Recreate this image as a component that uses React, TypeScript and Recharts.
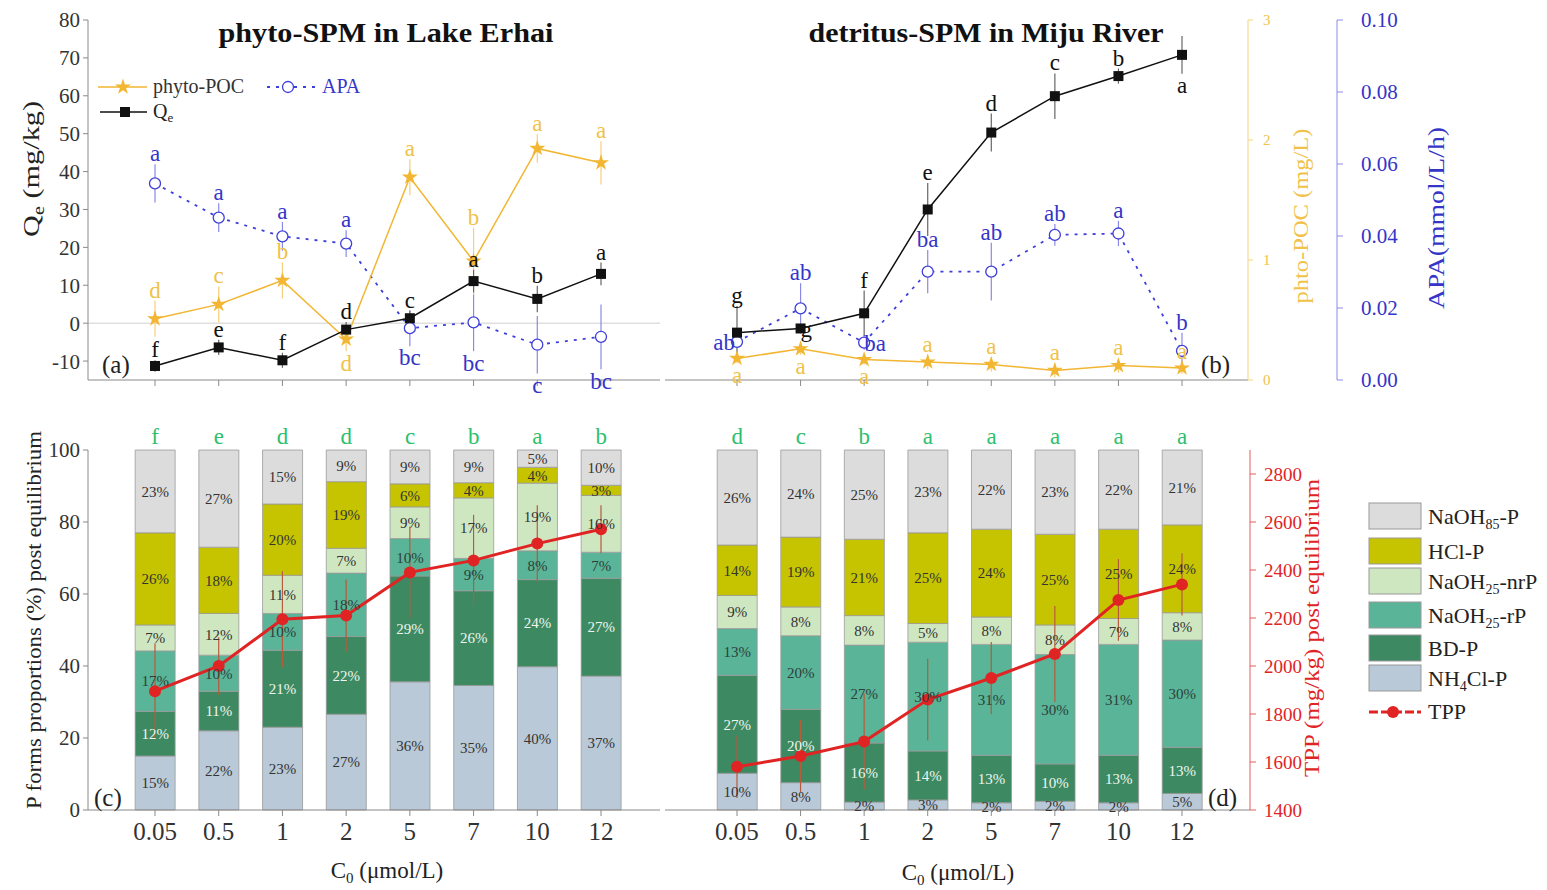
import React from 'react';
import { ComposedChart, Line, Bar, XAxis, YAxis, ErrorBar, LabelList, ReferenceLine, Symbols } from 'recharts';

const FONT = "'Liberation Serif', 'Times New Roman', serif";

const CATS = ['0.05', '0.5', '1', '2', '5', '7', '10', '12'];
const IDX = [0, 1, 2, 3, 4, 5, 6, 7];

// ---- (a) phyto-SPM in Lake Erhai ----
const ERHAI_QE = [-11.3, -6.4, -9.8, -1.7, 1.3, 11.1, 6.4, 13.0];
const ERHAI_QE_ERR = [1.5, 2, 2, 2, 2, 3, 3.5, 3];
const ERHAI_QE_SIG = ['f', 'e', 'f', 'd', 'c', 'a', 'b', 'a'];
const ERHAI_QE_SIDE = ['u', 'u', 'u', 'u', 'u', 'u', 'u', 'u'];
const ERHAI_POC = [0.51, 0.63, 0.83, 0.34, 1.69, 0.99, 1.93, 1.81];
const ERHAI_POC_ERR = [0.15, 0.15, 0.15, 0.1, 0.15, 0.28, 0.12, 0.18];
const ERHAI_POC_SIG = ['d', 'c', 'b', 'd', 'a', 'b', 'a', 'a'];
const ERHAI_POC_SIDE = ['u', 'u', 'u', 'd', 'u', 'u', 'u', 'u'];
const ERHAI_APA = [0.0546, 0.0451, 0.0399, 0.0379, 0.0144, 0.016, 0.0098, 0.012];
const ERHAI_APA_ERR = [0.0053, 0.004, 0.004, 0.0037, 0.005, 0.008, 0.008, 0.009];
const ERHAI_APA_SIG = ['a', 'a', 'a', 'a', 'bc', 'bc', 'c', 'bc'];
const ERHAI_APA_SIDE = ['u', 'u', 'u', 'u', 'd', 'd', 'd', 'd'];

// ---- (b) detritus-SPM in Miju River ----
const MIJU_QE = [-2.5, -1.4, 2.6, 30.0, 50.3, 59.9, 65.2, 70.8];
const MIJU_QE_ERR = [7, 1, 6, 7, 5, 6, 2, 5];
const MIJU_QE_SIG = ['g', 'g', 'f', 'e', 'd', 'c', 'b', 'a'];
const MIJU_QE_SIDE = ['u', 'r', 'u', 'u', 'u', 'u', 'u', 'd'];
const MIJU_POC = [0.18, 0.26, 0.17, 0.15, 0.13, 0.08, 0.12, 0.1];
const MIJU_POC_ERR = [0.04, 0.05, 0.04, 0.06, 0.06, 0.06, 0.06, 0.05];
const MIJU_POC_SIG = ['a', 'a', 'a', 'a', 'a', 'a', 'a', 'a'];
const MIJU_POC_SIDE = ['d', 'd', 'd', 'u', 'u', 'u', 'u', 'u'];
const MIJU_APA = [0.0106, 0.0199, 0.0104, 0.0301, 0.0301, 0.0403, 0.0407, 0.0081];
const MIJU_APA_ERR = [0.001, 0.007, 0.002, 0.006, 0.008, 0.003, 0.0035, 0.005];
const MIJU_APA_SIG = ['ab', 'ab', 'ba', 'ba', 'ab', 'ab', 'a', 'b'];
const MIJU_APA_SIDE = ['l', 'u', 'r', 'u', 'u', 'u', 'u', 'u'];

// ---- (c) P forms, Lake Erhai (%) ----
const ERHAI_NH4 = [15, 22, 23, 26.6, 35.6, 34.6, 39.8, 37.2];
const ERHAI_BD = [12.4, 11, 21.4, 21.6, 29.4, 26.3, 24.2, 27.2];
const ERHAI_RP = [16.8, 10, 10.2, 17.6, 10.4, 9.0, 8.0, 7.2];
const ERHAI_NRP = [7.2, 11.6, 10.6, 6.9, 8.8, 16.8, 18.8, 15.8];
const ERHAI_HCL = [25.6, 18.4, 19.8, 18.5, 6.4, 4.2, 4.4, 2.8];
const ERHAI_N85 = [23, 27, 15, 8.8, 9.4, 9.1, 4.8, 9.8];
const ERHAI_SIG = ['f', 'e', 'd', 'd', 'c', 'b', 'a', 'b'];
const ERHAI_TPP = [1895, 2000, 2195, 2210, 2390, 2440, 2510, 2570];
const ERHAI_TPP_ERR = [200, 120, 200, 150, 190, 190, 160, 100];

// ---- (d) P forms, Miju River (%) ----
const MIJU_NH4 = [10.2, 7.6, 2.2, 2.8, 2.0, 2.4, 2.0, 4.6];
const MIJU_BD = [27.2, 20.4, 16.4, 13.6, 13.2, 10.4, 13.2, 12.8];
const MIJU_RP = [13, 20.4, 27.2, 30.2, 30.8, 30.4, 30.8, 29.8];
const MIJU_NRP = [9.2, 8.0, 8.2, 5.2, 7.6, 8.2, 7.2, 7.6];
const MIJU_HCL = [14, 19.4, 21.2, 25.2, 24.4, 25.2, 24.8, 24.4];
const MIJU_N85 = [26.4, 24.2, 24.8, 23, 22, 23.4, 22, 20.8];
const MIJU_SIG = ['d', 'c', 'b', 'a', 'a', 'a', 'a', 'a'];
const MIJU_TPP = [1580, 1625, 1685, 1860, 1950, 2050, 2275, 2340];
const MIJU_TPP_ERR = [130, 150, 200, 170, 150, 200, 170, 130];

const QE_TICKS = [-10, 0, 10, 20, 30, 40, 50, 60, 70, 80];
const POC_TICKS = [0, 1, 2, 3];
const APA_TICKS = [0, 0.02, 0.04, 0.06, 0.08, 0.1];
const PCT_TICKS = [0, 20, 40, 60, 80, 100];
const TPP_TICKS = [1400, 1600, 1800, 2000, 2200, 2400, 2600, 2800];

// axis ids (ordered so the phyto-POC axis sits next to the plot)
const AX_QE = 'y0qe';
const AX_POC = 'y1poc';
const AX_APA = 'y2apa';

const BLACK = '#111111';
const ORANGE = '#f2b632';
const ORANGE_T = '#f0c24a';
const BLUE = '#3f3fdc';
const BLUE_T = '#3535c8';
const RED = '#e02424';
const GREEN_T = '#2fbf6c';
const AX = '#8a8a8a';

const C_N85 = '#dcdcdc';
const C_HCL = '#c6c400';
const C_NRP = '#cfe7c1';
const C_RP = '#5ab497';
const C_BD = '#3d8a62';
const C_NH4 = '#b9c9d7';

const topRows = (qe, qeE, qeL, qeS, poc, pocE, pocL, pocS, apa, apaE, apaL, apaS) =>
  IDX.map((i) => ({
    i, cat: CATS[i],
    qe: qe[i], qeE: qeE[i], qeL: qeL[i], qeS: qeS[i],
    poc: poc[i], pocE: pocE[i], pocL: pocL[i], pocS: pocS[i],
    apa: apa[i], apaE: apaE[i], apaL: apaL[i], apaS: apaS[i],
  }));

const barRows = (nh4, bd, rp, nrp, hcl, n85, sig, tpp, tppE) =>
  IDX.map((i) => ({
    i, cat: CATS[i], nh4: nh4[i], bd: bd[i], rp: rp[i], nrp: nrp[i], hcl: hcl[i], n85: n85[i],
    sig: sig[i], tpp: tpp[i], tppE: tppE[i],
  }));

const erhaiTop = topRows(ERHAI_QE, ERHAI_QE_ERR, ERHAI_QE_SIG, ERHAI_QE_SIDE, ERHAI_POC, ERHAI_POC_ERR, ERHAI_POC_SIG, ERHAI_POC_SIDE, ERHAI_APA, ERHAI_APA_ERR, ERHAI_APA_SIG, ERHAI_APA_SIDE);
const mijuTop = topRows(MIJU_QE, MIJU_QE_ERR, MIJU_QE_SIG, MIJU_QE_SIDE, MIJU_POC, MIJU_POC_ERR, MIJU_POC_SIG, MIJU_POC_SIDE, MIJU_APA, MIJU_APA_ERR, MIJU_APA_SIG, MIJU_APA_SIDE);
const erhaiBars = barRows(ERHAI_NH4, ERHAI_BD, ERHAI_RP, ERHAI_NRP, ERHAI_HCL, ERHAI_N85, ERHAI_SIG, ERHAI_TPP, ERHAI_TPP_ERR);
const mijuBars = barRows(MIJU_NH4, MIJU_BD, MIJU_RP, MIJU_NRP, MIJU_HCL, MIJU_N85, MIJU_SIG, MIJU_TPP, MIJU_TPP_ERR);

const squareDot = (p: any) => <rect key={`sq-${p.index}`} x={p.cx - 5} y={p.cy - 5} width={10} height={10} fill={BLACK} />;
const starDot = (p: any) => <Symbols key={`st-${p.index}`} cx={p.cx} cy={p.cy} type="star" size={80} fill={ORANGE} />;
const circleDot = (p: any) => <circle key={`ci-${p.index}`} cx={p.cx} cy={p.cy} r={5.5} fill="#fff" stroke={BLUE} strokeWidth={1.3} />;
const redDot = (p: any) => <circle key={`rd-${p.index}`} cx={p.cx} cy={p.cy} r={6} fill={RED} />;

const sigLines = (k: string, axis: string, color: string) => [
  <Line key={`${k}-up`} yAxisId={axis} dataKey={(d: any) => d[k] + d[k + 'E']} stroke="none" dot={false} activeDot={false} isAnimationActive={false} legendType="none">
    <LabelList dataKey={(d: any) => (d[k + 'S'] === 'u' ? d[k + 'L'] : '')} position="top" offset={3} fill={color} fontSize={23} fontFamily={FONT} />
  </Line>,
  <Line key={`${k}-dn`} yAxisId={axis} dataKey={(d: any) => d[k] - d[k + 'E']} stroke="none" dot={false} activeDot={false} isAnimationActive={false} legendType="none">
    <LabelList dataKey={(d: any) => (d[k + 'S'] === 'd' ? d[k + 'L'] : '')} position="bottom" offset={3} fill={color} fontSize={23} fontFamily={FONT} />
  </Line>,
  <Line key={`${k}-mid`} yAxisId={axis} dataKey={k} stroke="none" dot={false} activeDot={false} isAnimationActive={false} legendType="none">
    <LabelList dataKey={(d: any) => (d[k + 'S'] === 'l' ? d[k + 'L'] : '')} position="left" offset={2} fill={color} fontSize={23} fontFamily={FONT} />
    <LabelList dataKey={(d: any) => (d[k + 'S'] === 'r' ? d[k + 'L'] : '')} position="right" offset={0} fill={color} fontSize={23} fontFamily={FONT} />
  </Line>,
];

const topSeries = () => [
  <Line key="apa" yAxisId={AX_APA} dataKey="apa" stroke={BLUE} strokeWidth={1.8} strokeDasharray="3 6" dot={circleDot} activeDot={false} isAnimationActive={false}>
    <ErrorBar dataKey="apaE" width={0} stroke="#8a8ae6" strokeWidth={1.2} direction="y" />
  </Line>,
  <Line key="poc" yAxisId={AX_POC} dataKey="poc" stroke={ORANGE} strokeWidth={1.5} dot={starDot} activeDot={false} isAnimationActive={false}>
    <ErrorBar dataKey="pocE" width={0} stroke="#f5cf7a" strokeWidth={1.2} direction="y" />
  </Line>,
  <Line key="qe" yAxisId={AX_QE} dataKey="qe" stroke={BLACK} strokeWidth={1.5} dot={squareDot} activeDot={false} isAnimationActive={false}>
    <ErrorBar dataKey="qeE" width={0} stroke="#666" strokeWidth={1.2} direction="y" />
  </Line>,
  ...sigLines('apa', AX_APA, BLUE_T),
  ...sigLines('poc', AX_POC, ORANGE_T),
  ...sigLines('qe', AX_QE, BLACK),
];

const pctFmt = (v: any) => `${Math.round(Number(v))}%`;
const segLabel = (key: string, color: string) => (
  <LabelList dataKey={key} position="center" formatter={pctFmt} fill={color} fontSize={15} fontFamily={FONT} />
);

const barSeries = () => [
  <Bar key="nh4" yAxisId="pct" dataKey="nh4" stackId="s" fill={C_NH4} stroke="#9a9a9a" strokeWidth={0.8} barSize={40} isAnimationActive={false}>{segLabel('nh4', '#333')}</Bar>,
  <Bar key="bd" yAxisId="pct" dataKey="bd" stackId="s" fill={C_BD} stroke="#9a9a9a" strokeWidth={0.8} barSize={40} isAnimationActive={false}>{segLabel('bd', '#eef5ee')}</Bar>,
  <Bar key="rp" yAxisId="pct" dataKey="rp" stackId="s" fill={C_RP} stroke="#9a9a9a" strokeWidth={0.8} barSize={40} isAnimationActive={false}>{segLabel('rp', '#2c3f3a')}</Bar>,
  <Bar key="nrp" yAxisId="pct" dataKey="nrp" stackId="s" fill={C_NRP} stroke="#9a9a9a" strokeWidth={0.8} barSize={40} isAnimationActive={false}>{segLabel('nrp', '#333')}</Bar>,
  <Bar key="hcl" yAxisId="pct" dataKey="hcl" stackId="s" fill={C_HCL} stroke="#9a9a9a" strokeWidth={0.8} barSize={40} isAnimationActive={false}>{segLabel('hcl', '#333')}</Bar>,
  <Bar key="n85" yAxisId="pct" dataKey="n85" stackId="s" fill={C_N85} stroke="#9a9a9a" strokeWidth={0.8} barSize={40} isAnimationActive={false}>
    {segLabel('n85', '#333')}
    <LabelList dataKey="sig" position="top" offset={6} fill={GREEN_T} fontSize={23} fontFamily={FONT} />
  </Bar>,
  <Line key="tpp" yAxisId="tpp" dataKey="tpp" stroke={RED} strokeWidth={3} dot={redDot} activeDot={false} isAnimationActive={false}>
    <ErrorBar dataKey="tppE" width={0} stroke="#b85a3c" strokeWidth={1.2} direction="y" />
  </Line>,
];

const tickStyle = (size: number, fill: string) => ({ fontSize: size, fill, fontFamily: FONT });

const abs = (left: number, top: number) => ({ position: 'absolute' as const, left, top, fontFamily: FONT });
const chartStyle = { fontFamily: FONT };

const LegendRight = () => {
  const items = [
    { c: C_N85, y: 503, t: <>NaOH<tspan dy={5} fontSize={14}>85</tspan><tspan dy={-5}>-P</tspan></> },
    { c: C_HCL, y: 538, t: <>HCl-P</> },
    { c: C_NRP, y: 568, t: <>NaOH<tspan dy={5} fontSize={14}>25</tspan><tspan dy={-5}>-nrP</tspan></> },
    { c: C_RP, y: 602, t: <>NaOH<tspan dy={5} fontSize={14}>25</tspan><tspan dy={-5}>-rP</tspan></> },
    { c: C_BD, y: 635, t: <>BD-P</> },
    { c: C_NH4, y: 665, t: <>NH<tspan dy={5} fontSize={14}>4</tspan><tspan dy={-5}>Cl-P</tspan></> },
  ];
  return (
    <g>
      {items.map((it, k) => (
        <g key={k}>
          <rect x={1369} y={it.y} width={52} height={26} fill={it.c} stroke="#9a9a9a" strokeWidth={1} />
          <text x={1428} y={it.y + 21} fontSize={22} fill="#222">{it.t}</text>
        </g>
      ))}
      <line x1={1369} x2={1421} y1={712} y2={712} stroke={RED} strokeWidth={3} strokeDasharray="9 3" />
      <circle cx={1393} cy={712} r={6} fill={RED} />
      <text x={1428} y={719} fontSize={22} fill="#222">TPP</text>
    </g>
  );
};

export default function App() {
  return (
    <div style={{ position: 'absolute', left: 0, top: 0, width: 1547, height: 890, background: '#fff', fontFamily: FONT, overflow: 'hidden' }}>
      {/* (a) top-left */}
      <div style={abs(0, 0)}>
        <ComposedChart width={680} height={400} data={erhaiTop} margin={{ top: 20, right: 20, bottom: 10, left: 28 }} style={chartStyle}>
          <XAxis xAxisId={0} type="number" dataKey="i" domain={[-1.0516, 7.926]} ticks={IDX} tickFormatter={() => ''} height={10} axisLine={{ stroke: AX }} tickLine={{ stroke: AX }} tickSize={6} />
          <YAxis yAxisId={AX_QE} domain={[-15, 80]} ticks={QE_TICKS} width={60} tick={tickStyle(21, '#333')} axisLine={{ stroke: AX }} tickLine={{ stroke: AX }} tickSize={5} tickMargin={3} />
          <YAxis yAxisId={AX_POC} orientation="right" hide domain={[0, 3]} />
          <YAxis yAxisId={AX_APA} orientation="right" hide domain={[0, 0.1]} />
          <ReferenceLine yAxisId={AX_QE} y={0} stroke="#cfcfcf" strokeWidth={1} />
          {topSeries()}
        </ComposedChart>
      </div>

      {/* (b) top-right */}
      <div style={abs(660, 0)}>
        <ComposedChart width={887} height={400} data={mijuTop} margin={{ top: 20, right: 110, bottom: 10, left: 5 }} style={chartStyle}>
          <XAxis xAxisId={0} type="number" dataKey="i" domain={[-1.1326, 8.038]} ticks={IDX} tickFormatter={() => ''} height={10} axisLine={{ stroke: AX }} tickLine={{ stroke: AX }} tickSize={6} />
          <YAxis yAxisId={AX_QE} hide domain={[-15, 80]} />
          <YAxis yAxisId={AX_POC} orientation="right" domain={[0, 3]} ticks={POC_TICKS} width={89} tick={tickStyle(15, ORANGE_T)} axisLine={{ stroke: '#f5d27e' }} tickLine={{ stroke: '#f5d27e' }} tickSize={5} tickMargin={10} />
          <YAxis yAxisId={AX_APA} orientation="right" domain={[0, 0.1]} ticks={APA_TICKS} width={100} tickFormatter={(v: number) => v.toFixed(2)} tick={tickStyle(21, BLUE_T)} axisLine={{ stroke: '#8c8ce8' }} tickLine={{ stroke: '#8c8ce8' }} tickSize={6} tickMargin={18} />
          {topSeries()}
        </ComposedChart>
      </div>

      {/* (c) bottom-left */}
      <div style={abs(0, 400)}>
        <ComposedChart width={680} height={490} data={erhaiBars} margin={{ top: 50, right: 20, bottom: 0, left: 28 }} style={chartStyle}>
          <XAxis xAxisId={0} type="number" dataKey="i" domain={[-1.0516, 7.926]} ticks={IDX} tickFormatter={(v: number) => CATS[v]} height={80} tick={tickStyle(25, '#333')} axisLine={{ stroke: AX }} tickLine={{ stroke: AX }} tickSize={6} tickMargin={6} />
          <YAxis yAxisId="pct" domain={[0, 100]} ticks={PCT_TICKS} width={60} tick={tickStyle(21, '#333')} axisLine={{ stroke: AX }} tickLine={{ stroke: AX }} tickSize={5} tickMargin={3} />
          <YAxis yAxisId="tpp" orientation="right" hide domain={[1400, 2900]} />
          {barSeries()}
        </ComposedChart>
      </div>

      {/* (d) bottom-right */}
      <div style={abs(660, 400)}>
        <ComposedChart width={887} height={490} data={mijuBars} margin={{ top: 50, right: 227, bottom: 0, left: 5 }} style={chartStyle}>
          <XAxis xAxisId={0} type="number" dataKey="i" domain={[-1.1326, 8.07]} ticks={IDX} tickFormatter={(v: number) => CATS[v]} height={80} tick={tickStyle(25, '#333')} axisLine={{ stroke: AX }} tickLine={{ stroke: AX }} tickSize={6} tickMargin={6} />
          <YAxis yAxisId="pct" hide domain={[0, 100]} />
          <YAxis yAxisId="tpp" orientation="right" domain={[1400, 2900]} ticks={TPP_TICKS} width={70} tick={tickStyle(19, RED)} axisLine={{ stroke: '#e45a5a' }} tickLine={{ stroke: '#e45a5a' }} tickSize={6} tickMargin={8} />
          {barSeries()}
        </ComposedChart>
      </div>

      {/* annotations */}
      <svg width={1547} height={890} style={{ position: 'absolute', left: 0, top: 0, pointerEvents: 'none', fontFamily: FONT }} fontFamily={FONT}>
        <text x={386} y={42} textAnchor="middle" fontSize={28} fontWeight="bold" fill="#111" textLength={335} lengthAdjust="spacingAndGlyphs">phyto-SPM in Lake Erhai</text>
        <text x={986} y={42} textAnchor="middle" fontSize={28} fontWeight="bold" fill="#111" textLength={355} lengthAdjust="spacingAndGlyphs">detritus-SPM in Miju River</text>

        <text transform="translate(39,169) rotate(-90)" textAnchor="middle" fontSize={24} fill="#222" textLength={136} lengthAdjust="spacingAndGlyphs">Q<tspan dy={5} fontSize={16}>e</tspan><tspan dy={-5}> (mg/kg)</tspan></text>
        <text transform="translate(1308,216) rotate(-90)" textAnchor="middle" fontSize={20} fill={ORANGE_T} textLength={175} lengthAdjust="spacingAndGlyphs">phto-POC (mg/L)</text>
        <text transform="translate(1444,218) rotate(-90)" textAnchor="middle" fontSize={23} fill={BLUE_T} textLength={182} lengthAdjust="spacingAndGlyphs">APA(mmol/L/h)</text>
        <text transform="translate(41,620) rotate(-90)" textAnchor="middle" fontSize={22} fill="#222" textLength={378} lengthAdjust="spacingAndGlyphs">P forms proportions (%) post equilibrium</text>
        <text transform="translate(1319,628) rotate(-90)" textAnchor="middle" fontSize={22} fill={RED} textLength={298} lengthAdjust="spacingAndGlyphs">TPP (mg/kg) post equilibrium</text>

        <text x={387} y={878} textAnchor="middle" fontSize={23} fill="#222">C<tspan dy={5} fontSize={15}>0</tspan><tspan dy={-5}> (μmol/L)</tspan></text>
        <text x={958} y={880} textAnchor="middle" fontSize={23} fill="#222">C<tspan dy={5} fontSize={15}>0</tspan><tspan dy={-5}> (μmol/L)</tspan></text>

        <text x={102} y={373} fontSize={25} fill="#222">(a)</text>
        <text x={1201} y={373} fontSize={25} fill="#222">(b)</text>
        <text x={94} y={806} fontSize={25} fill="#222">(c)</text>
        <text x={1208} y={806} fontSize={25} fill="#222">(d)</text>

        {/* top-left legend */}
        <line x1={98} x2={147} y1={87} y2={87} stroke={ORANGE} strokeWidth={1.5} />
        <Symbols cx={123} cy={87} type="star" size={80} fill={ORANGE} />
        <text x={153} y={93} fontSize={20} fill="#333">phyto-POC</text>
        <line x1={267} x2={317} y1={87} y2={87} stroke={BLUE} strokeWidth={1.8} strokeDasharray="3 6" />
        <circle cx={288} cy={87} r={5.5} fill="#fff" stroke={BLUE} strokeWidth={1.3} />
        <text x={322} y={93} fontSize={20} fill={BLUE_T}>APA</text>
        <line x1={100} x2={147} y1={112} y2={112} stroke={BLACK} strokeWidth={1.5} />
        <rect x={120} y={107} width={10} height={10} fill={BLACK} />
        <text x={153} y={118} fontSize={20} fill="#222">Q<tspan dy={4} fontSize={13}>e</tspan></text>

        <LegendRight />
      </svg>
    </div>
  );
}
